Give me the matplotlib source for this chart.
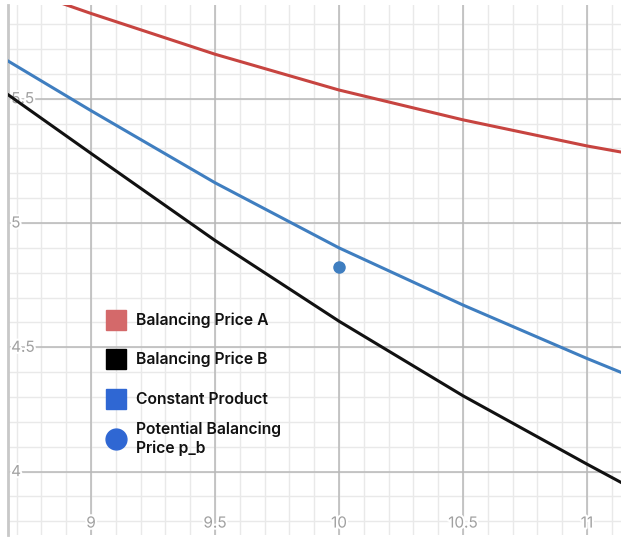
import matplotlib.pyplot as plt
import matplotlib.patheffects as pe
import numpy as np

# values
price_a_x = [8.85, 9.0, 9.5, 10.0, 10.5, 11.0, 11.14]
price_a_y = [5.895, 5.843, 5.679, 5.535, 5.415, 5.31, 5.285]

price_b_x = [8.66, 9.0, 9.5, 10.0, 10.5, 11.0, 11.14]
price_b_y = [5.52, 5.28, 4.93, 4.605, 4.305, 4.03, 3.955]

cp_x = [8.66, 9.0, 9.5, 10.0, 10.5, 11.0, 11.14]
cp_y = [5.655, 5.452, 5.162, 4.90, 4.67, 4.455, 4.398]

pb_x = [10.0]
pb_y = [4.823]

legend_labels = ["Balancing Price A", "Balancing Price B", "Constant Product",
                 "Potential Balancing\nPrice p_b"]
legend_colors = ["#d4696a", "#000000", "#2f67d3", "#2f67d3"]
legend_markers = ["s", "s", "s", "o"]
x_ticks = [9, 9.5, 10, 10.5, 11]
y_ticks = [4, 4.5, 5, 5.5]

plt.rcParams['font.family'] = ['Inter', 'DejaVu Sans']

fig = plt.figure(figsize=(6.21, 5.4), dpi=100)
ax = fig.add_axes([8 / 621, 5 / 540, 613 / 621, 530 / 540])

x0, x1 = 8.6653, 11.137
y0, y1 = 3.745, 5.877
ax.set_xlim(x0, x1)
ax.set_ylim(y0, y1)

# grid: minor every 0.1, major every 0.5
for v in np.arange(8.7, 11.15, 0.1):
    ax.axvline(v, color="#e9e9e9", lw=1, zorder=0)
for v in np.arange(3.8, 5.9, 0.1):
    ax.axhline(v, color="#e9e9e9", lw=1, zorder=0)
for v in x_ticks:
    ax.axvline(v, color="#b8b8b8", lw=1.1, zorder=0.5)
for v in y_ticks:
    ax.axhline(v, color="#b8b8b8", lw=1.1, zorder=0.5)

ax.plot(price_a_x, price_a_y, color="#c74440", lw=2.2, zorder=3)
ax.plot(price_b_x, price_b_y, color="#111111", lw=2.2, zorder=3)
ax.plot(cp_x, cp_y, color="#3f7ec0", lw=2.2, zorder=3)
ax.plot(pb_x, pb_y, "o", color="#3f7ec0", ms=8, zorder=4)

halo = [pe.withStroke(linewidth=3, foreground="white")]
for v in x_ticks:
    ax.text(v, 3.793, f"{v:g}", ha="center", va="center", fontsize=11,
            color="#a0a0a0", path_effects=halo, zorder=2)
for v in y_ticks:
    ax.text(8.678, v, f"{v:g}", ha="left", va="center", fontsize=11,
            color="#a0a0a0", path_effects=halo, zorder=2)

# hand-placed legend (pixel rows of the reference, as axes fractions)
rows_px = [320, 359, 399, 439]
for i, (lab, col, mk) in enumerate(zip(legend_labels, legend_colors, legend_markers)):
    fy = (535 - rows_px[i]) / 530
    ax.plot([(115.5 - 8) / 613], [fy], marker=mk, ms=15, color=col, ls="",
            transform=ax.transAxes, zorder=5, clip_on=False)
    ax.text((136 - 8) / 613, fy, lab, transform=ax.transAxes, ha="left",
            va="center", fontsize=11.3, fontweight="semibold", color="#111111",
            linespacing=1.3, zorder=5)

for s in ["top", "right", "bottom"]:
    ax.spines[s].set_visible(False)
ax.spines["left"].set_color("#c8c8c8")
ax.spines["left"].set_linewidth(2)
ax.set_xticks([])
ax.set_yticks([])

fig.savefig("out.png", dpi=100)
